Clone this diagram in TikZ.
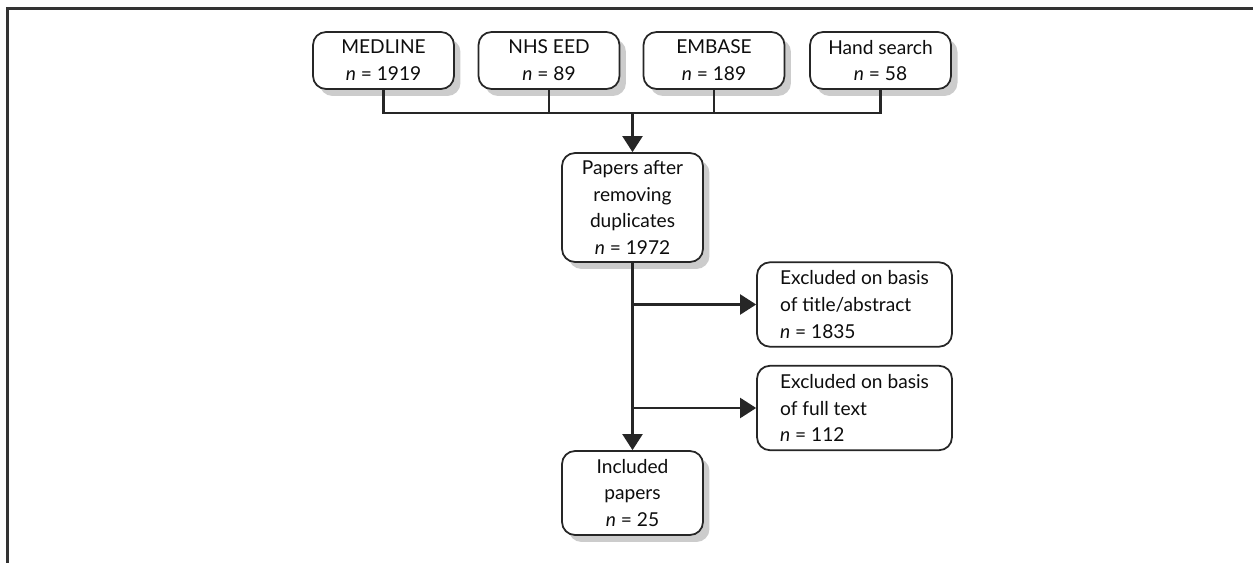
\documentclass[tikz,border=0pt]{standalone}
\usepackage{fontspec}
\setmainfont{Lato}
\usetikzlibrary{arrows.meta,shadows}

\tikzset{
  box/.style={draw=black!85, line width=1pt, rounded corners=0.26cm, fill=white,
    inner sep=0pt, align=center, text=black!95,
    font=\fontsize{10.9}{15.3}\selectfont},
  shadowbox/.style={box, drop shadow={shadow xshift=0.13cm, shadow yshift=-0.14cm,
    fill=black!20, opacity=1}},
  srcbox/.style={shadowbox, minimum width=2.82cm, minimum height=1.14cm},
  midbox/.style={shadowbox, minimum width=2.82cm},
  exbox/.style={box, minimum width=3.9cm, minimum height=1.69cm, align=left},
  link/.style={draw=black!85, line width=1.2pt},
  arr/.style={link, -{Triangle[length=0.32cm, width=0.4cm]}}
}

\begin{document}
\begin{tikzpicture}[x=0.02cm, y=-0.02cm]
  \useasboundingbox (0,0) rectangle (1253,563);
  \draw [line width=1.2pt, black!80] (1253,8.5) -- (7.5,8.5) -- (7.5,563);

  \node[srcbox] (medline) at (383.5,60.5) {MEDLINE\\\textit{n} = 1919};
  \node[srcbox] (nhseed)  at (549,60.5)   {NHS EED\\\textit{n} = 89};
  \node[srcbox] (embase)  at (714,60.5)   {EMBASE\\\textit{n} = 189};
  \node[srcbox] (hand)    at (880.5,60.5) {Hand search\\\textit{n} = 58};

  \node[midbox, minimum height=2.18cm] (papers) at (632.5,207.5)
    {Papers after\\removing\\duplicates\\\textit{n} = 1972};
  \node[exbox] (extitle) at (854.5,304.5)
    {Excluded on basis\\of title/abstract\\\textit{n} = 1835};
  \node[exbox] (exfull) at (854.5,408)
    {Excluded on basis\\of full text\\\textit{n} = 112};
  \node[midbox, minimum height=1.68cm] (included) at (632.5,493)
    {Included\\papers\\\textit{n} = 25};

  \coordinate (bus) at (632.5,113);
  \draw[link] (medline.south) |- (bus);
  \draw[link] (nhseed.south) |- (bus);
  \draw[link] (embase.south) |- (bus);
  \draw[link] (hand.south) |- (bus);
  \draw[arr] (bus) -- (papers.north);

  \draw[arr] (papers.south) -- (included.north);
  \draw[arr] (papers.south |- extitle.west) -- (extitle.west);
  \draw[arr] (papers.south |- exfull.west) -- (exfull.west);
\end{tikzpicture}
\end{document}
